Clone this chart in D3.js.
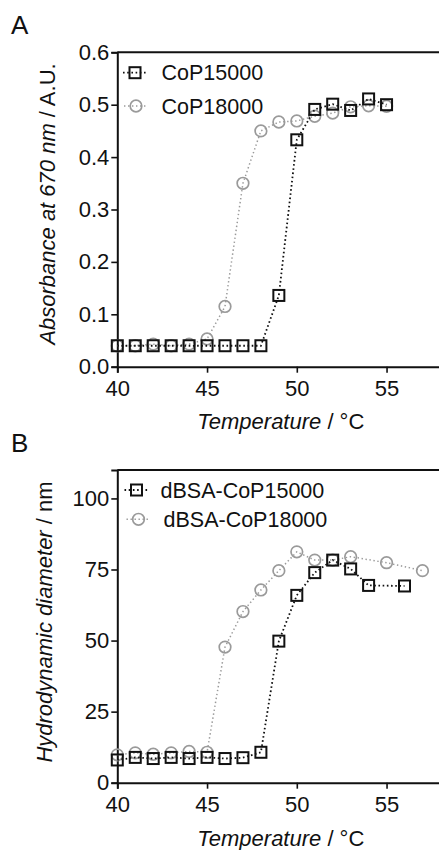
<!DOCTYPE html>
<html>
<head>
<meta charset="utf-8">
<script src="https://cdn.jsdelivr.net/npm/d3@7"></script>
<style>
  html, body { margin: 0; padding: 0; background: #fff; }
  svg { display: block; font-family: "Liberation Sans", Arial, Helvetica, sans-serif; }
</style>
</head>
<body>
<svg id="chart" width="439" height="850"></svg>
<script>
// ---- Data ----
// Panel A: absorbance at 670 nm vs temperature
const tempA = [40, 41, 42, 43, 44, 45, 46, 47, 48, 49, 50, 51, 52, 53, 54, 55];
const absCoP15000 = [0.040, 0.040, 0.040, 0.040, 0.040, 0.040, 0.040, 0.040, 0.040, 0.136, 0.433, 0.491, 0.501, 0.489, 0.511, 0.500];
const absCoP18000 = [0.040, 0.040, 0.043, 0.040, 0.043, 0.053, 0.115, 0.350, 0.450, 0.467, 0.469, 0.478, 0.484, 0.496, 0.498, 0.497];

// Panel B: hydrodynamic diameter vs temperature
const tempB15000 = [40, 41, 42, 43, 44, 45, 46, 47, 48, 49, 50, 51, 52, 53, 54, 56];
const dhCoP15000 = [8.0, 8.9, 8.5, 8.9, 8.5, 8.9, 8.5, 8.8, 10.7, 49.8, 65.9, 73.9, 78.3, 75.2, 69.4, 69.2];
const tempB18000 = [40, 41, 42, 43, 44, 45, 46, 47, 48, 49, 50, 51, 52, 53, 55, 57];
const dhCoP18000 = [9.8, 10.5, 10.0, 10.5, 11.0, 10.7, 47.7, 60.2, 67.8, 74.6, 81.2, 78.3, 78.3, 79.5, 77.4, 74.6];

const xTicks = [40, 45, 50, 55];
const yTicksA = [0.0, 0.1, 0.2, 0.3, 0.4, 0.5, 0.6];
const yTicksB = [0, 25, 50, 75, 100];

const svg = d3.select("#chart");

function panel(cfg) {
  const g = svg.append("g");
  const x = d3.scaleLinear().domain([40, 58]).range([cfg.left, cfg.right]);
  const y = d3.scaleLinear().domain(cfg.yDomain).range([cfg.bottom, cfg.top]);

  // panel letter
  g.append("text").attr("x", 11).attr("y", cfg.letterY)
    .attr("font-size", 26).attr("fill", "#111").text(cfg.letter);

  // top border
  g.append("line").attr("x1", cfg.left).attr("x2", cfg.right)
    .attr("y1", cfg.top).attr("y2", cfg.top)
    .attr("stroke", "#111").attr("stroke-width", 2);

  // axes
  const xAxis = g.append("g").attr("transform", `translate(0,${cfg.bottom})`)
    .call(d3.axisBottom(x).tickValues(xTicks).tickSize(6).tickPadding(5).tickFormat(d3.format("d")));
  const yAxis = g.append("g").attr("transform", `translate(${cfg.left},0)`)
    .call(d3.axisLeft(y).tickValues(cfg.yTicks).tickSize(6).tickPadding(2).tickFormat(cfg.yFormat));
  [xAxis, yAxis].forEach(a => {
    a.select(".domain").attr("stroke", "#111").attr("stroke-width", 2);
    a.selectAll(".tick line").attr("stroke", "#111").attr("stroke-width", 1.6);
    a.selectAll(".tick text").attr("font-size", 22).attr("fill", "#111")
      .attr("font-family", "'Liberation Sans', Arial, sans-serif");
  });
  xAxis.selectAll(".tick text").attr("dy", "0.85em");

  // axis titles
  const xt = g.append("text").attr("x", (cfg.left + cfg.right) / 2 + 2).attr("y", cfg.xTitleY)
    .attr("text-anchor", "middle").attr("font-size", 22).attr("fill", "#111");
  xt.append("tspan").attr("font-style", "italic").text("Temperature");
  xt.append("tspan").text(" / °C");

  const yt = g.append("text")
    .attr("transform", `translate(${cfg.yTitleX},${cfg.yTitleY}) rotate(-90)`)
    .attr("text-anchor", "middle").attr("font-size", 22).attr("fill", "#111");
  yt.append("tspan").attr("font-style", "italic").text(cfg.yQuantity);
  yt.append("tspan").text(cfg.yUnit);

  // series
  const line = d3.line().x(d => x(d[0])).y(d => y(d[1]));
  cfg.series.forEach(s => {
    const pts = s.xs.map((t, i) => [t, s.ys[i]]);
    g.append("path").datum(pts).attr("d", line)
      .attr("fill", "none").attr("stroke", s.color)
      .attr("stroke-width", s.lw).attr("stroke-dasharray", s.dash);
    if (s.shape === "square") {
      g.selectAll(null).data(pts).enter().append("rect")
        .attr("x", d => x(d[0]) - 5.5).attr("y", d => y(d[1]) - 5.5)
        .attr("width", 11).attr("height", 11)
        .attr("fill", "none").attr("stroke", s.color).attr("stroke-width", 2);
    } else {
      g.selectAll(null).data(pts).enter().append("circle")
        .attr("cx", d => x(d[0])).attr("cy", d => y(d[1])).attr("r", 5.8)
        .attr("fill", "none").attr("stroke", s.color).attr("stroke-width", 1.7);
    }
  });

  // legend
  cfg.legend.forEach(l => {
    const s = l.s;
    g.append("line").attr("x1", l.mx - 12).attr("x2", l.mx + 12)
      .attr("y1", l.my).attr("y2", l.my)
      .attr("stroke", s.color).attr("stroke-width", s.lw).attr("stroke-dasharray", s.dash);
    if (s.shape === "square") {
      g.append("rect").attr("x", l.mx - 5.5).attr("y", l.my - 5.5)
        .attr("width", 11).attr("height", 11)
        .attr("fill", "none").attr("stroke", s.color).attr("stroke-width", 2);
    } else {
      g.append("circle").attr("cx", l.mx).attr("cy", l.my).attr("r", 5.8)
        .attr("fill", "none").attr("stroke", s.color).attr("stroke-width", 1.7);
    }
    g.append("text").attr("x", l.tx).attr("y", l.my).attr("dy", "0.36em")
      .attr("font-size", 21.5).attr("fill", "#111").text(l.label);
  });
}

const blackStyle = { color: "#111", lw: 1.8, dash: "1.6,2.6", shape: "square" };
const grayStyle  = { color: "#9a9a9a", lw: 1.5, dash: "1.4,2.6", shape: "circle" };

// Panel A
const sA18 = Object.assign({ xs: tempA, ys: absCoP18000 }, grayStyle);
const sA15 = Object.assign({ xs: tempA, ys: absCoP15000 }, blackStyle);
panel({
  letter: "A", letterY: 34,
  left: 117.3, right: 440.4, top: 52.3, bottom: 366.7,
  yDomain: [0, 0.6], yTicks: yTicksA, yFormat: d3.format(".1f"),
  xTitleY: 429, yTitleX: 55, yTitleY: 204,
  yQuantity: "Absorbance at 670 nm", yUnit: " / A.U.",
  series: [sA18, sA15],
  legend: [
    { s: sA15, mx: 135, my: 72.7, tx: 161.5, label: "CoP15000" },
    { s: sA18, mx: 136, my: 106, tx: 161.5, label: "CoP18000" }
  ]
});

// Panel B
const sB18 = Object.assign({ xs: tempB18000, ys: dhCoP18000 }, grayStyle);
const sB15 = Object.assign({ xs: tempB15000, ys: dhCoP15000 }, blackStyle);
panel({
  letter: "B", letterY: 452,
  left: 117.3, right: 440.4, top: 470, bottom: 782.7,
  yDomain: [0, 110], yTicks: yTicksB, yFormat: d3.format("d"),
  xTitleY: 846, yTitleX: 52, yTitleY: 622,
  yQuantity: "Hydrodynamic diameter", yUnit: " / nm",
  series: [sB18, sB15],
  legend: [
    { s: sB15, mx: 136.5, my: 490, tx: 160.5, label: "dBSA-CoP15000" },
    { s: sB18, mx: 138.5, my: 519.3, tx: 163.5, label: "dBSA-CoP18000" }
  ]
});
</script>
</body>
</html>
